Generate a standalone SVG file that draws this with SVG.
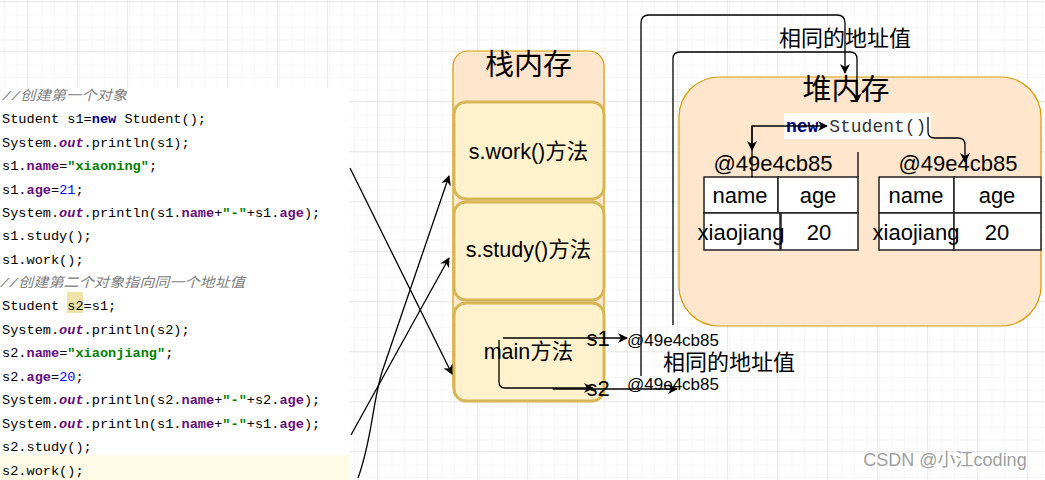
<svg xmlns="http://www.w3.org/2000/svg" width="1045" height="480" viewBox="0 0 1045 480">
<defs>
<pattern id="minor" x="27" y="1" width="12.5" height="12.5" patternUnits="userSpaceOnUse">
<path d="M0,0 H12.5 M0,0 V12.5" fill="none" stroke="#eeeeee" stroke-width="1"/>
</pattern>
<pattern id="major" x="27" y="1" width="50" height="50" patternUnits="userSpaceOnUse">
<rect width="50" height="50" fill="url(#minor)"/>
<path d="M0,0 H50 M0,0 V50" fill="none" stroke="#d9d9d9" stroke-width="1"/>
</pattern>
<marker id="arr" viewBox="0 0 10 10" refX="9" refY="5" markerWidth="10" markerHeight="10" markerUnits="userSpaceOnUse" orient="auto">
<path d="M0,0 L10,5 L0,10 L3,5 Z" fill="#000"/>
</marker>
<style>
.code{font-family:"Liberation Mono","Noto Sans CJK SC",monospace;font-size:13.6px;fill:#000;}
.cm{fill:#808080;font-style:italic;}
.kw{fill:#000080;font-weight:bold;}
.fld{fill:#660E7A;font-weight:bold;}
.out{fill:#660E7A;font-style:italic;font-weight:bold;}
.str{fill:#008000;font-weight:bold;}
.num{fill:#0000FF;}
.sans{font-family:"Liberation Sans","Noto Sans CJK SC",sans-serif;fill:#000;}
.title{font-size:29px;text-anchor:middle;}
.lbl{font-size:21.5px;text-anchor:middle;}
.tbl{font-size:22px;text-anchor:middle;}
.cell{fill:#fff;stroke:#222;stroke-width:1.5;}
.inner{fill:#FFF2CC;stroke:#D6B656;stroke-width:3;}
.mem{fill:#FFE6CC;stroke:#D79B00;stroke-width:1.2;}
.edge{fill:none;stroke:#000;stroke-width:1.3;}
</style>
</defs>
<rect width="1045" height="480" fill="#fff"/>
<rect width="1045" height="480" fill="url(#major)"/>

<g id="code">
<rect x="0" y="88" width="349" height="392" fill="#fff"/>
<rect x="0" y="455" width="349" height="25" fill="#FFFBE6"/>
<rect x="67" y="292" width="16" height="21" fill="#EFE4A8"/>
<text class="code cm" x="2" y="100" textLength="125" lengthAdjust="spacingAndGlyphs">//创建第一个对象</text>
<text class="code" x="2" y="123">Student s1=<tspan class="kw">new</tspan> Student();</text>
<text class="code" x="2" y="147">System.<tspan class="out">out</tspan>.println(s1);</text>
<text class="code" x="2" y="170">s1.<tspan class="fld">name</tspan>=<tspan class="str">"xiaoning"</tspan>;</text>
<text class="code" x="2" y="194">s1.<tspan class="fld">age</tspan>=<tspan class="num">21</tspan>;</text>
<text class="code" x="2" y="217">System.<tspan class="out">out</tspan>.println(s1.<tspan class="fld">name</tspan>+<tspan class="str">"-"</tspan>+s1.<tspan class="fld">age</tspan>);</text>
<text class="code" x="2" y="240">s1.study();</text>
<text class="code" x="2" y="264">s1.work();</text>
<text class="code cm" x="0" y="287" textLength="245" lengthAdjust="spacingAndGlyphs">//创建第二个对象指向同一个地址值</text>
<text class="code" x="2" y="310">Student s2=s1;</text>
<text class="code" x="2" y="334">System.<tspan class="out">out</tspan>.println(s2);</text>
<text class="code" x="2" y="357">s2.<tspan class="fld">name</tspan>=<tspan class="str">"xiaonjiang"</tspan>;</text>
<text class="code" x="2" y="381">s2.<tspan class="fld">age</tspan>=<tspan class="num">20</tspan>;</text>
<text class="code" x="2" y="404">System.<tspan class="out">out</tspan>.println(s2.<tspan class="fld">name</tspan>+<tspan class="str">"-"</tspan>+s2.<tspan class="fld">age</tspan>);</text>
<text class="code" x="2" y="428">System.<tspan class="out">out</tspan>.println(s1.<tspan class="fld">name</tspan>+<tspan class="str">"-"</tspan>+s1.<tspan class="fld">age</tspan>);</text>
<text class="code" x="2" y="451">s2.study();</text>
<text class="code" x="2" y="475">s2.work();</text>
</g>

<g id="stack">
<rect class="mem" x="453" y="51" width="151" height="349" rx="15"/>
<text class="sans title" x="528.5" y="75">栈内存</text>
</g>
<g id="stack-work">
<rect class="inner" x="454" y="102" width="150" height="97" rx="12"/>
<text class="sans lbl" x="528.5" y="159">s.work()方法</text>
</g>
<g id="stack-study">
<rect class="inner" x="454" y="202" width="150" height="98" rx="12"/>
<text class="sans lbl" x="528.5" y="257">s.study()方法</text>
</g>
<g id="stack-main">
<rect class="inner" x="454" y="303" width="150" height="98" rx="12"/>
<text class="sans lbl" x="528.5" y="359">main方法</text>
</g>

<g id="heap">
<rect class="mem" x="679" y="77" width="362" height="249" rx="40"/>
<text class="sans title" x="846" y="100">堆内存</text>
</g>

<g id="new-student">
<rect x="784" y="113" width="147" height="26" fill="#fff"/>
<text x="786" y="132" style="font-family:'Liberation Mono',monospace;font-size:18px;fill:#333"><tspan class="kw">new</tspan> Student()</text>
</g>

<g id="obj1">
<text class="sans tbl" x="773" y="171">@49e4cb85</text>
<rect class="cell" x="704" y="177" width="74" height="36"/>
<rect class="cell" x="778" y="177" width="80" height="36"/>
<rect class="cell" x="704" y="213" width="76" height="37"/>
<rect class="cell" x="781" y="213" width="77" height="37"/>
<line x1="858" y1="152" x2="858" y2="177" stroke="#222" stroke-width="1.5"/>
<text class="sans tbl" x="740" y="203">name</text>
<text class="sans tbl" x="818" y="203">age</text>
<text class="sans tbl" x="741" y="240">xiaojiang</text>
<text class="sans tbl" x="819" y="240">20</text>
</g>

<g id="obj2">
<text class="sans tbl" x="958" y="171">@49e4cb85</text>
<rect class="cell" x="879" y="177" width="75" height="36"/>
<rect class="cell" x="954" y="177" width="87" height="36"/>
<rect class="cell" x="879" y="213" width="75" height="37"/>
<rect class="cell" x="954" y="213" width="87" height="37"/>
<text class="sans tbl" x="916" y="203">name</text>
<text class="sans tbl" x="997" y="203">age</text>
<text class="sans tbl" x="916" y="240">xiaojiang</text>
<text class="sans tbl" x="997" y="240">20</text>
</g>

<g id="labels">
<text class="sans" x="845" y="46" style="font-size:22px;text-anchor:middle">相同的地址值</text>
<text class="sans" x="729" y="370" style="font-size:22px;text-anchor:middle">相同的地址值</text>
<text class="sans" x="673" y="346" style="font-size:17px;text-anchor:middle">@49e4cb85</text>
<text class="sans" x="673" y="390" style="font-size:17px;text-anchor:middle">@49e4cb85</text>
<text class="sans" x="598" y="346" style="font-size:22px;text-anchor:middle">s1</text>
<text class="sans" x="598" y="396" style="font-size:22px;text-anchor:middle">s2</text>
<text class="sans" x="945" y="466" style="font-size:18px;text-anchor:middle;fill:#a0a0a0">CSDN @小江coding</text>
</g>

<g id="connectors">
<path class="edge" d="M350,168 L452,374" marker-end="url(#arr)"/>
<path class="edge" d="M351,435 L449,258" marker-end="url(#arr)"/>
<path class="edge" d="M358,478 C372,440 372,405 382,372 L449,176" marker-end="url(#arr)"/>
<path class="edge" d="M503,338 H627" marker-end="url(#arr)"/>
<path class="edge" d="M499,340 V382 Q499,388 505,388 H593" marker-end="url(#arr)"/>
<path class="edge" d="M553,389 H677" marker-end="url(#arr)"/>
<path class="edge" d="M641,376 V23 Q641,15 649,15 H837 Q845,15 845,23 V73" marker-end="url(#arr)"/>
<path class="edge" d="M673,325 V59 Q673,52 680,52 H850 Q857,52 857,59 V102" marker-end="url(#arr)"/>
<path class="edge" d="M752,177 V126 H827" marker-end="url(#arr)"/>
<path class="edge" d="M752,126 V150" marker-end="url(#arr)"/>
<path class="edge" d="M928,117 V132 Q928,138 935,138 H958 Q965,138 965,145 V162" marker-end="url(#arr)"/>
</g>
</svg>
